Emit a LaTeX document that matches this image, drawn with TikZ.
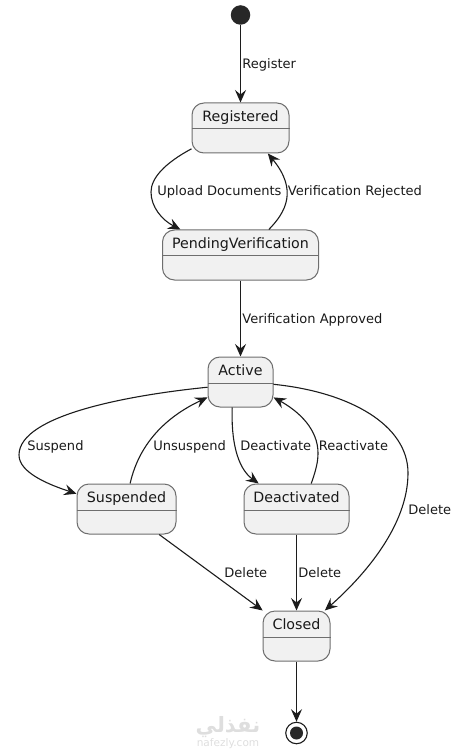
\documentclass[tikz,border=0pt]{standalone}
\usepackage{fontspec}
\setmainfont{DejaVu Sans}
\newfontfamily\arabicfont[Script=Arabic]{DejaVu Sans}
\TeXXeTstate=1
\usepackage{xcolor}
\usetikzlibrary{arrows.meta}
\definecolor{fondetat}{RGB}{241,241,241}
\definecolor{bordetat}{RGB}{110,110,110}
\definecolor{trait}{RGB}{28,28,28}
\definecolor{filigrane}{RGB}{222,222,222}
\tikzset{
  etat/.style={draw=bordetat,fill=fondetat,line width=0.2mm,rounded corners=2.4mm,
               minimum height=10mm,inner sep=0pt},
  nomEtat/.style={anchor=base,inner sep=0pt,font=\fontsize{8.1}{10}\selectfont,text=black!90},
  lien/.style={-{Stealth[length=2.5mm,width=2.2mm,inset=0.9mm]},draw=trait,line width=0.22mm},
  etiq/.style={anchor=base west,inner sep=0pt,font=\fontsize{7.42}{9}\selectfont,text=black!90},
  marque/.style={inner sep=0pt,text=filigrane}
}
\newcommand{\etatbox}[5]{%
  \node[etat,minimum width=#4*0.2mm] (#1) at (#2,#3) {};
  \draw[bordetat,line width=0.2mm] ([yshift=-0.2mm]#1.west) -- ([yshift=-0.2mm]#1.east);
  \node[nomEtat] (#1nom) at (#2,#3-6.5) {#5};}

\begin{document}
\begin{tikzpicture}[x=0.2mm,y=-0.2mm]
  \useasboundingbox (0,0) rectangle (457,749);
  % debut et fin
  \node[circle,fill=trait!95,minimum size=3.9mm,inner sep=0pt] (debut) at (240.5,15) {};
  \node[circle,draw=trait,fill=white,line width=0.22mm,minimum size=4.3mm,inner sep=0pt] (fin) at (296.5,733) {};
  \node[circle,fill=trait!95,minimum size=2.6mm,inner sep=0pt] (finint) at (296.5,733) {};
  % etats
  \etatbox{registered}{240.5}{128}{97}{Registered}
  \etatbox{pending}{240.5}{255}{156}{PendingVerification}
  \etatbox{active}{240.5}{382}{65}{Active}
  \etatbox{suspended}{126.5}{509}{99}{Suspended}
  \etatbox{deactivated}{296.5}{509}{105}{Deactivated}
  \etatbox{closed}{296.5}{636}{67}{Closed}
  % liens
  \draw[lien] (debut) -- (registered.north);
  \draw[lien] (registered.203) .. controls (165,163) and (151,178) .. (151,192)
       .. controls (151,207) and (162,220) .. (pending.157);
  \draw[lien] (pending.42) .. controls (286,212) and (298,190) .. (registered.-43);
  \draw[lien] (pending.south) -- (active.north);
  \draw[lien] (active.189) .. controls (130,395) and (19,415) .. (19,455)
       .. controls (19,473) and (50,485) .. (suspended.163);
  \draw[lien] (suspended.82) .. controls (140,440) and (170,415) .. (active.205);
  \draw[lien] (active.252) .. controls (231,440) and (237,468) .. (deactivated.146);
  \draw[lien] (deactivated.60) .. controls (316,470) and (318,462) .. (318,453)
       .. controls (318,430) and (300,412) .. (active.-25);
  \draw[lien] (active.-4) .. controls (350,392) and (408,425) .. (408,473)
       .. controls (408,525) and (365,575) .. (closed.42);
  \draw[lien] (suspended.-38) -- (closed.143);
  \draw[lien] (deactivated.south) -- (closed.north);
  \draw[lien] (closed.south) -- (fin.north);
  % etiquettes
  \node[etiq] (eRegister) at (242,69) {Register};
  \node[etiq] (eUpload) at (157,196) {Upload Documents};
  \node[etiq] (eRejected) at (287.5,196) {Verification Rejected};
  \node[etiq] (eApproved) at (242,323) {Verification Approved};
  \node[etiq] (eSuspend) at (27,450) {Suspend};
  \node[etiq] (eUnsuspend) at (153,450) {Unsuspend};
  \node[etiq] (eDeactivate) at (240,450) {Deactivate};
  \node[etiq] (eReactivate) at (318.5,450) {Reactivate};
  \node[etiq] (eDeleteA) at (408,514) {Delete};
  \node[etiq] (eDeleteS) at (224,577) {Delete};
  \node[etiq] (eDeleteD) at (298,577) {Delete};
  % filigrane
  \node[marque,font=\arabicfont\bfseries\fontsize{12}{14}\selectfont] (wmAr) at (228,727) {\beginR نفذلي\endR};
  \node[marque,font=\fontsize{6}{7}\selectfont] (wmLat) at (228,744) {nafezly.com};
\end{tikzpicture}
\end{document}
